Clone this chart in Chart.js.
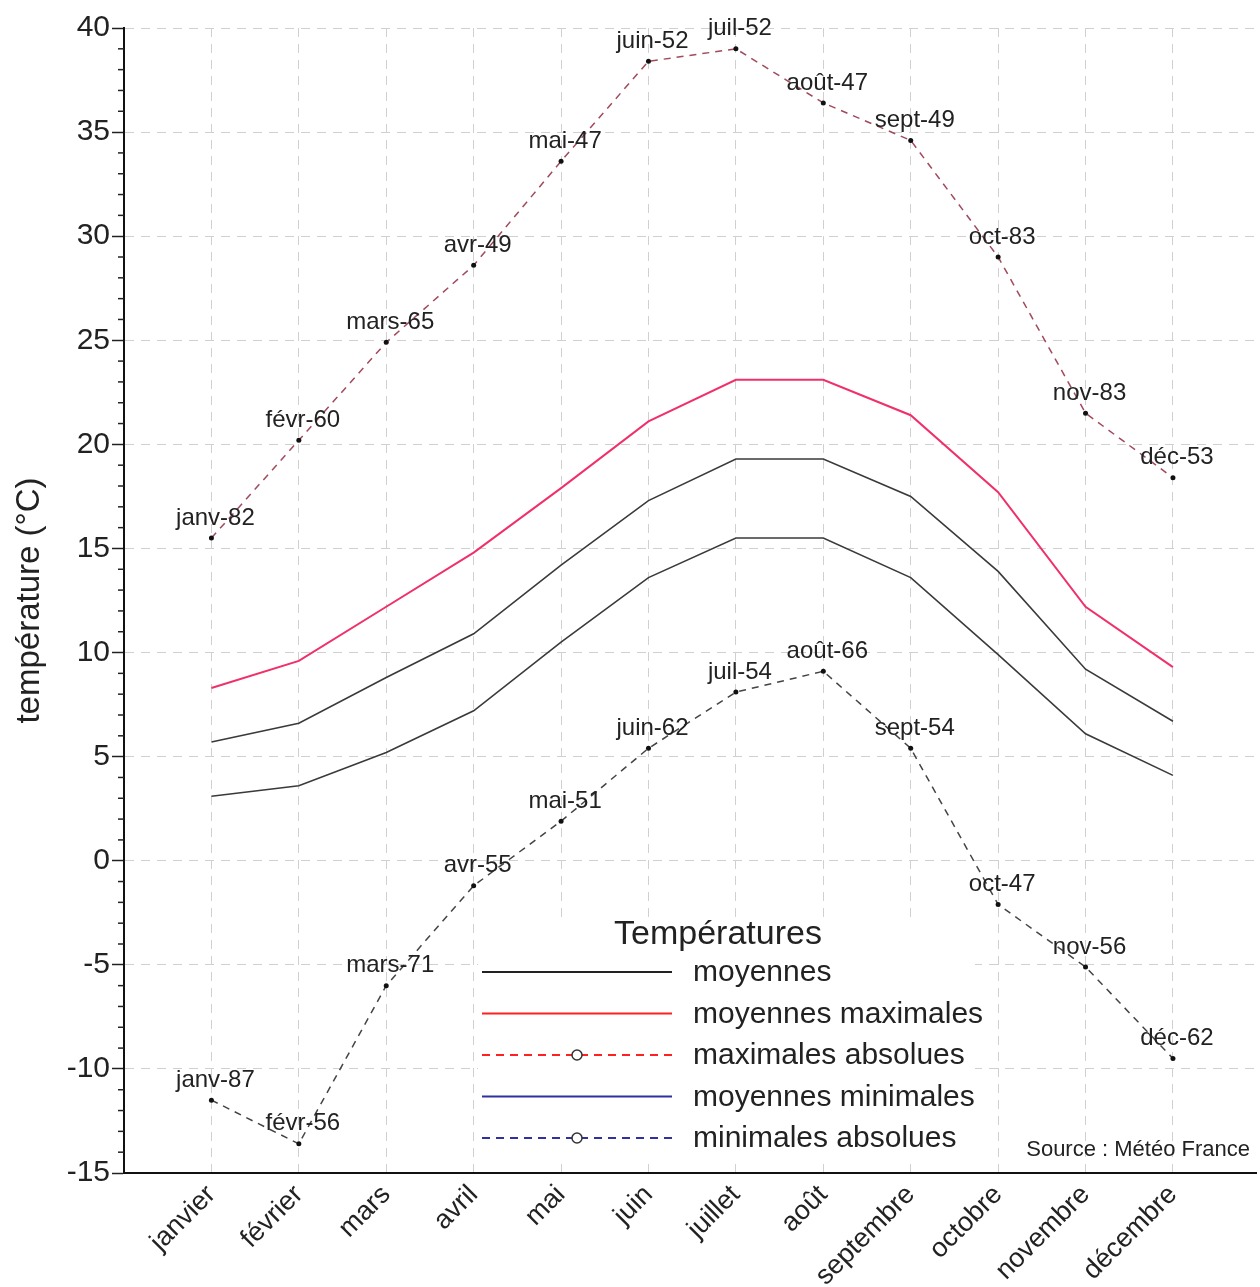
<!DOCTYPE html>
<html>
<head>
<meta charset="utf-8">
<script src="https://cdn.jsdelivr.net/npm/chart.js@4"></script>
<style>
html, body { margin: 0; padding: 0; background: #fff; }
#wrap { width: 1260px; height: 1287px; }
</style>
</head>
<body>
<div id="wrap"><canvas id="tempChart"></canvas></div>
<script>
// mois (axe x)
var months = ['janvier', 'février', 'mars', 'avril', 'mai', 'juin', 'juillet', 'août', 'septembre', 'octobre', 'novembre', 'décembre'];
// séries (°C)
var moyennes = [5.7, 6.6, 8.8, 10.9, 14.2, 17.3, 19.3, 19.3, 17.5, 13.9, 9.2, 6.7];
var moyMax = [8.3, 9.6, 12.2, 14.8, 17.9, 21.1, 23.1, 23.1, 21.4, 17.7, 12.2, 9.3];
var moyMin = [3.1, 3.6, 5.2, 7.2, 10.5, 13.6, 15.5, 15.5, 13.6, 9.9, 6.1, 4.1];
var maxAbs = [15.5, 20.2, 24.9, 28.6, 33.6, 38.4, 39.0, 36.4, 34.6, 29.0, 21.5, 18.4];
var maxAbsDates = ['janv-82', 'févr-60', 'mars-65', 'avr-49', 'mai-47', 'juin-52', 'juil-52', 'août-47', 'sept-49', 'oct-83', 'nov-83', 'déc-53'];
var minAbs = [-11.5, -13.6, -6.0, -1.2, 1.9, 5.4, 8.1, 9.1, 5.4, -2.1, -5.1, -9.5];
var minAbsDates = ['janv-87', 'févr-56', 'mars-71', 'avr-55', 'mai-51', 'juin-62', 'juil-54', 'août-66', 'sept-54', 'oct-47', 'nov-56', 'déc-62'];
// légende
var legendTitle = 'Températures';
var legendLabels = ['moyennes', 'moyennes maximales', 'maximales absolues', 'moyennes minimales', 'minimales absolues'];
var sourceText = 'Source : Météo France';

var FONT = '"Liberation Sans", Arial, sans-serif';

function toPoints(vals) {
    return vals.map(function (v, i) { return { x: i + 1, y: v }; });
}

// petites graduations sur l'axe y
var minorTicks = {
    id: 'minorTicks',
    afterDraw: function (chart) {
        var ctx = chart.ctx, y = chart.scales.y;
        ctx.save();
        ctx.strokeStyle = '#222';
        ctx.lineWidth = 1.5;
        for (var v = y.min; v <= y.max; v++) {
            if (v % 5 === 0) continue;
            var py = y.getPixelForValue(v);
            ctx.beginPath();
            ctx.moveTo(y.right - 6, py);
            ctx.lineTo(y.right, py);
            ctx.stroke();
        }
        ctx.restore();
    }
};

// étiquettes des records
var recordLabels = {
    id: 'recordLabels',
    afterDatasetsDraw: function (chart) {
        var ctx = chart.ctx;
        ctx.save();
        ctx.font = '24px ' + FONT;
        ctx.fillStyle = '#222';
        ctx.textAlign = 'center';
        ctx.textBaseline = 'middle';
        chart.data.datasets.forEach(function (ds, di) {
            if (!ds.dates) return;
            chart.getDatasetMeta(di).data.forEach(function (pt, i) {
                ctx.fillText(ds.dates[i], pt.x + 4, pt.y - 20);
            });
        });
        ctx.restore();
    }
};

// légende dans la zone du graphique + source
var boxLegend = {
    id: 'boxLegend',
    afterDraw: function (chart) {
        var ctx = chart.ctx;
        var styles = [
            { color: '#222', dash: [], mark: false },
            { color: '#ff2020', dash: [], mark: false },
            { color: '#ff2020', dash: [8, 6], mark: true },
            { color: '#3030a0', dash: [], mark: false },
            { color: '#3030a0', dash: [8, 6], mark: true }
        ];
        ctx.save();
        ctx.fillStyle = '#fff';
        ctx.fillRect(478, 918, 497, 246);
        ctx.fillStyle = '#222';
        ctx.font = '34px ' + FONT;
        ctx.textAlign = 'center';
        ctx.textBaseline = 'middle';
        ctx.fillText(legendTitle, 718, 935);
        ctx.font = '30px ' + FONT;
        ctx.textAlign = 'left';
        legendLabels.forEach(function (lab, i) {
            var ly = 972 + i * 41.5;
            var st = styles[i];
            ctx.strokeStyle = st.color;
            ctx.lineWidth = 1.8;
            ctx.setLineDash(st.dash);
            ctx.beginPath();
            ctx.moveTo(482, ly);
            ctx.lineTo(672, ly);
            ctx.stroke();
            ctx.setLineDash([]);
            if (st.mark) {
                ctx.fillStyle = '#fff';
                ctx.strokeStyle = '#333';
                ctx.lineWidth = 1.5;
                ctx.beginPath();
                ctx.arc(577, ly, 5, 0, Math.PI * 2);
                ctx.fill();
                ctx.stroke();
            }
            ctx.fillStyle = '#222';
            ctx.fillText(lab, 693, ly + 1);
        });
        ctx.font = '22px "Liberation Sans Narrow", ' + FONT;
        ctx.textAlign = 'right';
        ctx.fillText(sourceText, 1250, 1150);
        ctx.restore();
    }
};

window.onload = function () {
    Chart.defaults.font.family = FONT;
    var ctx = document.getElementById('tempChart');
    var tempChart = new Chart(ctx, {
        type: 'line',
        data: {
            datasets: [
                {
                    label: legendLabels[0],
                    data: toPoints(moyennes),
                    borderColor: '#3a3a3a', borderWidth: 1.6, pointRadius: 0
                },
                {
                    label: legendLabels[1],
                    data: toPoints(moyMax),
                    borderColor: '#f0306a', borderWidth: 2, pointRadius: 0
                },
                {
                    label: legendLabels[2],
                    data: toPoints(maxAbs),
                    dates: maxAbsDates,
                    borderColor: '#a04a5c', borderWidth: 1.5, borderDash: [7, 6],
                    pointRadius: 2.5, pointBackgroundColor: '#111', pointBorderWidth: 0
                },
                {
                    label: legendLabels[3],
                    data: toPoints(moyMin),
                    borderColor: '#3a3a3a', borderWidth: 1.6, pointRadius: 0
                },
                {
                    label: legendLabels[4],
                    data: toPoints(minAbs),
                    dates: minAbsDates,
                    borderColor: '#444', borderWidth: 1.5, borderDash: [7, 6],
                    pointRadius: 2.5, pointBackgroundColor: '#111', pointBorderWidth: 0
                }
            ]
        },
        options: {
            responsive: true,
            maintainAspectRatio: false,
            animation: false,
            layout: { padding: { top: 28, right: 0, bottom: 0, left: 0 } },
            plugins: {
                legend: { display: false },
                tooltip: { enabled: false }
            },
            scales: {
                x: {
                    type: 'linear',
                    min: 0, max: 12.95,
                    ticks: {
                        stepSize: 1, autoSkip: false,
                        maxRotation: 45, minRotation: 45,
                        color: '#222', font: { size: 27 }, padding: 6,
                        callback: function (v) { return months[v - 1] || ''; }
                    },
                    grid: {
                        color: function (c) {
                            var v = c.tick ? c.tick.value : 0;
                            return (v >= 1 && v <= 12) ? '#d0d0d0' : 'rgba(0,0,0,0)';
                        },
                        drawTicks: false
                    },
                    border: { color: '#111', width: 2, dash: [9, 7] },
                    afterFit: function (s) {
                        s.height = 114;
                        s.paddingLeft = 0;
                        s.paddingRight = 0;
                    }
                },
                y: {
                    min: -15, max: 40,
                    ticks: { stepSize: 5, color: '#222', font: { size: 30 }, padding: 2 },
                    grid: { color: '#d0d0d0', tickLength: 12, tickColor: '#222', tickWidth: 1.5 },
                    border: { color: '#111', width: 2, dash: [9, 7] },
                    title: {
                        display: true, text: 'température (°C)', color: '#222',
                        font: { size: 33 }, padding: { top: 10, bottom: 0 }
                    },
                    afterFit: function (s) {
                        s.width = 124;
                        s.paddingTop = 0;
                        s.paddingBottom = 0;
                    }
                }
            }
        },
        plugins: [minorTicks, recordLabels, boxLegend]
    });
};
</script>
</body>
</html>
